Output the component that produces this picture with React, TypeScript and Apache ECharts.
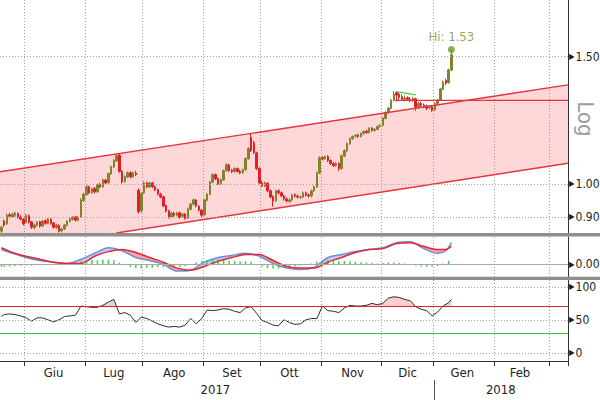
import React, { useEffect, useRef } from 'react';
import * as echarts from 'echarts';

const FONT = "'Liberation Sans Narrow', 'DejaVu Sans Condensed', 'Liberation Sans', sans-serif";

// trading-day categories (index based)
const DAY_COUNT = 207;
const monthStarts = [9, 31, 52, 74, 95, 117, 139, 158, 180, 200];
const monthLabelIdx = [19, 41, 63, 84, 105, 128, 148, 168, 189];
const monthLabels = ['Giu', 'Lug', 'Ago', 'Set', 'Ott', 'Nov', 'Dic', 'Gen', 'Feb'];
const yearLabelIdx = [78, 182];
const yearLabels = ['2017', '2018'];
const yearBoundaryIdx = 158;

// [open, close, low, high]
const candles = [
  [0.860, 0.871, 0.855, 0.875], [0.888, 0.877, 0.872, 0.892], [0.880, 0.905, 0.878, 0.910], [0.906, 0.902, 0.896, 0.912],
  [0.900, 0.908, 0.897, 0.913], [0.905, 0.911, 0.900, 0.915], [0.910, 0.899, 0.895, 0.913], [0.900, 0.894, 0.890, 0.905],
  [0.894, 0.880, 0.876, 0.897], [0.884, 0.905, 0.882, 0.909], [0.903, 0.885, 0.881, 0.907], [0.886, 0.871, 0.866, 0.889],
  [0.870, 0.877, 0.865, 0.881], [0.876, 0.885, 0.873, 0.889], [0.886, 0.874, 0.870, 0.889], [0.874, 0.888, 0.872, 0.891],
  [0.889, 0.882, 0.878, 0.893], [0.881, 0.894, 0.879, 0.897], [0.893, 0.882, 0.878, 0.896], [0.883, 0.871, 0.867, 0.886],
  [0.870, 0.877, 0.866, 0.881], [0.876, 0.860, 0.856, 0.879], [0.861, 0.866, 0.857, 0.870], [0.866, 0.877, 0.863, 0.880],
  [0.876, 0.888, 0.874, 0.891], [0.887, 0.894, 0.884, 0.898], [0.893, 0.899, 0.889, 0.903], [0.900, 0.891, 0.887, 0.903],
  [0.890, 0.899, 0.887, 0.903], [0.900, 0.950, 0.898, 0.955], [0.948, 0.968, 0.944, 0.972], [0.966, 0.991, 0.963, 0.996],
  [0.990, 0.972, 0.968, 0.994], [0.972, 0.984, 0.969, 0.988], [0.985, 0.975, 0.970, 0.990], [0.975, 0.997, 0.972, 1.001],
  [0.998, 0.991, 0.986, 1.003], [0.990, 1.013, 0.988, 1.017], [1.012, 1.003, 0.998, 1.016], [1.004, 1.033, 1.000, 1.037],
  [1.032, 1.056, 1.029, 1.060], [1.055, 1.077, 1.052, 1.082], [1.076, 1.094, 1.072, 1.099], [1.096, 1.040, 1.036, 1.101],
  [1.040, 1.006, 1.001, 1.045], [1.007, 1.023, 1.003, 1.027], [1.022, 1.036, 1.019, 1.040], [1.036, 1.023, 1.018, 1.040],
  [1.022, 1.036, 1.019, 1.040], [1.035, 1.030, 1.025, 1.042], [0.980, 0.915, 0.910, 0.985], [0.918, 0.970, 0.912, 0.975],
  [0.972, 1.003, 0.968, 1.008], [1.003, 0.991, 0.986, 1.007], [0.990, 1.003, 0.987, 1.007], [1.003, 0.991, 0.987, 1.006],
  [0.991, 0.981, 0.977, 0.995], [0.982, 0.968, 0.964, 0.985], [0.968, 0.959, 0.955, 0.972], [0.960, 0.932, 0.928, 0.963],
  [0.933, 0.917, 0.913, 0.936], [0.918, 0.899, 0.895, 0.921], [0.900, 0.911, 0.896, 0.915], [0.911, 0.905, 0.900, 0.915],
  [0.905, 0.911, 0.901, 0.915], [0.912, 0.899, 0.895, 0.915], [0.902, 0.908, 0.898, 0.912], [0.908, 0.896, 0.892, 0.911],
  [0.897, 0.923, 0.894, 0.927], [0.922, 0.938, 0.919, 0.942], [0.937, 0.950, 0.934, 0.955], [0.950, 0.932, 0.928, 0.953],
  [0.931, 0.920, 0.916, 0.934], [0.920, 0.905, 0.900, 0.923], [0.906, 0.950, 0.903, 0.954], [0.949, 0.968, 0.945, 0.972],
  [0.967, 1.006, 0.964, 1.010], [1.005, 1.030, 1.002, 1.034], [1.030, 1.016, 1.012, 1.034], [1.017, 1.000, 0.996, 1.020],
  [1.000, 1.013, 0.997, 1.017], [1.012, 1.043, 1.010, 1.047], [1.043, 1.063, 1.040, 1.068], [1.062, 1.043, 1.039, 1.066],
  [1.044, 1.040, 1.035, 1.049], [1.040, 1.050, 1.036, 1.054], [1.050, 1.040, 1.036, 1.054], [1.041, 1.036, 1.031, 1.046],
  [1.036, 1.046, 1.032, 1.050], [1.046, 1.084, 1.043, 1.088], [1.083, 1.119, 1.080, 1.124], [1.160, 1.112, 1.107, 1.174],
  [1.140, 1.105, 1.100, 1.148], [1.104, 1.050, 1.045, 1.108], [1.050, 1.003, 0.998, 1.055], [1.003, 0.994, 0.989, 1.010],
  [0.994, 1.003, 0.990, 1.008], [1.002, 0.978, 0.974, 1.006], [0.978, 0.959, 0.955, 0.982], [0.960, 0.947, 0.930, 0.964],
  [0.948, 0.978, 0.944, 0.982], [0.978, 0.972, 0.967, 0.983], [0.972, 0.962, 0.958, 0.976], [0.962, 0.953, 0.948, 0.966],
  [0.953, 0.947, 0.942, 0.958], [0.946, 0.950, 0.941, 0.955], [0.950, 0.965, 0.946, 0.969], [0.965, 0.962, 0.957, 0.970],
  [0.962, 0.959, 0.954, 0.967], [0.958, 0.959, 0.953, 0.964], [0.959, 0.972, 0.955, 0.976], [0.972, 0.965, 0.960, 0.976],
  [0.965, 0.962, 0.957, 0.969], [0.962, 0.978, 0.958, 0.982], [0.978, 0.991, 0.974, 0.995], [0.990, 1.036, 0.987, 1.040],
  [1.035, 1.087, 1.032, 1.092], [1.087, 1.084, 1.078, 1.092], [1.083, 1.091, 1.079, 1.095], [1.091, 1.077, 1.072, 1.096],
  [1.077, 1.067, 1.062, 1.081], [1.067, 1.060, 1.055, 1.072], [1.060, 1.067, 1.056, 1.071], [1.067, 1.050, 1.042, 1.071],
  [1.050, 1.094, 1.046, 1.098], [1.093, 1.112, 1.089, 1.116], [1.111, 1.137, 1.108, 1.141], [1.136, 1.155, 1.132, 1.159],
  [1.155, 1.163, 1.150, 1.167], [1.164, 1.167, 1.159, 1.172], [1.168, 1.163, 1.158, 1.173], [1.163, 1.174, 1.159, 1.178],
  [1.174, 1.182, 1.170, 1.186], [1.183, 1.178, 1.173, 1.188], [1.178, 1.194, 1.174, 1.198], [1.194, 1.186, 1.181, 1.199],
  [1.186, 1.190, 1.181, 1.195], [1.190, 1.201, 1.186, 1.205], [1.201, 1.205, 1.196, 1.210], [1.205, 1.233, 1.201, 1.237],
  [1.232, 1.256, 1.228, 1.260], [1.255, 1.273, 1.251, 1.278], [1.272, 1.306, 1.268, 1.311], [1.305, 1.331, 1.300, 1.345],
  [1.338, 1.327, 1.300, 1.342], [1.330, 1.318, 1.305, 1.336], [1.320, 1.310, 1.302, 1.330], [1.308, 1.314, 1.300, 1.326],
  [1.316, 1.310, 1.302, 1.322], [1.310, 1.306, 1.298, 1.318], [1.305, 1.314, 1.298, 1.320], [1.312, 1.277, 1.262, 1.316],
  [1.280, 1.293, 1.270, 1.298], [1.292, 1.285, 1.275, 1.300], [1.286, 1.281, 1.272, 1.292], [1.282, 1.273, 1.265, 1.288],
  [1.274, 1.277, 1.268, 1.286], [1.278, 1.264, 1.258, 1.284], [1.266, 1.293, 1.262, 1.297], [1.292, 1.306, 1.288, 1.311],
  [1.306, 1.353, 1.302, 1.358], [1.352, 1.384, 1.348, 1.390], [1.390, 1.379, 1.370, 1.398], [1.380, 1.438, 1.376, 1.444],
  [1.437, 1.509, 1.433, 1.534],
];

// price grid lines (log axis)
const priceTicks = [0.9, 1.0, 1.5];
const priceTickLabels = ['0.90', '1.00', '1.50'];
const priceMin = 0.855;
const priceMax = 1.797;

// regression channel: values at first and last category
const channelIdx = [0, 206];
const channelUpper = [1.040, 1.370];
const channelLower = [0.808, 1.067];
// resistance line and pennant top
const resistanceIdx = 144;
const resistanceLevel = 1.305;
const pennantIdx = [144, 151];
const pennantValues = [1.342, 1.328];

const hiIdx = 164;
const hiValue = 1.534;
const hiLabel = 'Hi: 1.53';

// MACD panel
const macdIdx = [0, 4, 9, 14, 19, 24, 29, 34, 39, 44, 49, 54, 59, 64, 69, 74, 79, 84, 89, 94, 99, 104, 109, 114, 119, 124, 129, 134, 139, 144, 149, 154, 159, 162, 164];
const macdLine = [0.035, 0.026, 0.016, 0.009, 0.005, 0.002, 0.012, 0.026, 0.039, 0.032, 0.016, 0.009, 0.000, -0.016, -0.014, 0.005, 0.016, 0.021, 0.026, 0.019, 0.002, -0.009, -0.012, -0.007, 0.016, 0.023, 0.030, 0.035, 0.039, 0.051, 0.053, 0.037, 0.026, 0.032, 0.051];
const signalLine = [0.039, 0.028, 0.019, 0.012, 0.005, 0.002, 0.002, 0.019, 0.030, 0.035, 0.028, 0.016, 0.005, -0.009, -0.014, -0.005, 0.007, 0.016, 0.023, 0.023, 0.009, -0.005, -0.009, -0.009, 0.005, 0.016, 0.028, 0.035, 0.037, 0.049, 0.051, 0.042, 0.035, 0.035, 0.042];
const macdHist = [
  [0, -0.006], [1, -0.006], [3, -0.005], [5, -0.004], [7, -0.004], [9, -0.003], [11, -0.003], [13, -0.002], [15, -0.002], [17, 0.001],
  [19, 0.001], [21, 0.002], [23, 0.002], [25, 0.003], [27, 0.005], [29, 0.008], [31, 0.009], [33, 0.010], [35, 0.010], [37, 0.011],
  [39, 0.011], [41, 0.010], [43, 0.004], [45, -0.002], [47, -0.006], [49, -0.009], [51, -0.010], [53, -0.009], [55, -0.008], [57, -0.007],
  [59, -0.007], [61, -0.008], [63, -0.008], [65, -0.007], [67, -0.004], [69, -0.001], [71, 0.004], [73, 0.008], [75, 0.010], [77, 0.012],
  [79, 0.012], [81, 0.011], [83, 0.009], [85, 0.008], [87, 0.007], [89, 0.007], [91, 0.006], [93, -0.001], [95, -0.006], [97, -0.009],
  [99, -0.010], [101, -0.010], [103, -0.009], [105, -0.007], [107, -0.005], [109, -0.003], [111, -0.001], [113, 0.002], [115, 0.006], [117, 0.009],
  [119, 0.010], [121, 0.009], [123, 0.008], [125, 0.008], [127, 0.007], [129, 0.006], [131, 0.005], [133, 0.004], [135, 0.003], [137, 0.002],
  [139, 0.003], [141, 0.004], [143, 0.004], [145, 0.003], [147, 0.002], [149, 0.000], [151, -0.003], [153, -0.005], [155, -0.006], [157, -0.005],
  [159, -0.004], [161, 0.002], [163, 0.008],
];
const macdZeroLabel = '0.00';

// RSI panel
const rsi = [
  [0, 55], [1, 58], [3, 59], [5, 58], [7, 56], [9, 53], [11, 48], [13, 53], [15, 53], [17, 50], [19, 47], [21, 50], [23, 55], [25, 56],
  [27, 57], [29, 71], [31, 70], [33, 69], [35, 69], [37, 72], [39, 77], [41, 81], [43, 59], [45, 61], [47, 57], [49, 46], [51, 54],
  [53, 52], [55, 48], [57, 44], [59, 41], [61, 39], [63, 40], [65, 39], [67, 42], [69, 52], [71, 44], [73, 52], [75, 65], [77, 64],
  [79, 65], [81, 67], [83, 66], [85, 63], [87, 61], [89, 68], [91, 70], [93, 60], [95, 49], [97, 46], [99, 42], [101, 41], [103, 50],
  [105, 46], [107, 43], [109, 44], [111, 50], [113, 52], [115, 52], [117, 71], [119, 64], [121, 63], [123, 61], [125, 68], [127, 72],
  [129, 71], [131, 71], [133, 72], [135, 75], [137, 73], [139, 75], [141, 83], [143, 85], [145, 84], [147, 81], [149, 79], [151, 70],
  [153, 66], [155, 64], [157, 56], [159, 62], [161, 71], [163, 76], [164, 81],
];
const rsiTicks = [0, 50, 100];
const rsiOverbought = 70;
const rsiOversold = 30;

// ---------- helpers ----------
type Pt = number[];
type Rect = { x: number; y: number; width: number; height: number };

function clipEdge(pts: Pt[], inside: (p: Pt) => boolean, cut: (a: Pt, b: Pt) => Pt): Pt[] {
  const out: Pt[] = [];
  for (let i = 0; i < pts.length; i++) {
    const cur = pts[i];
    const prev = pts[(i + pts.length - 1) % pts.length];
    const ci = inside(cur);
    const pi = inside(prev);
    if (ci) {
      if (!pi) out.push(cut(prev, cur));
      out.push(cur);
    } else if (pi) {
      out.push(cut(prev, cur));
    }
  }
  return out;
}
const atX = (a: Pt, b: Pt, x: number): Pt => [x, a[1] + ((b[1] - a[1]) * (x - a[0])) / (b[0] - a[0])];
const atY = (a: Pt, b: Pt, y: number): Pt => [a[0] + ((b[0] - a[0]) * (y - a[1])) / (b[1] - a[1]), y];

function clipPolygon(pts: Pt[], r: Rect): Pt[] {
  const x0 = r.x, x1 = r.x + r.width, y0 = r.y, y1 = r.y + r.height;
  let p = pts;
  p = clipEdge(p, (q) => q[0] >= x0, (a, b) => atX(a, b, x0));
  p = clipEdge(p, (q) => q[0] <= x1, (a, b) => atX(a, b, x1));
  p = clipEdge(p, (q) => q[1] >= y0, (a, b) => atY(a, b, y0));
  p = clipEdge(p, (q) => q[1] <= y1, (a, b) => atY(a, b, y1));
  return p;
}

function clipSeg(a: Pt, b: Pt, r: Rect): Pt[] | null {
  let t0 = 0, t1 = 1;
  const dx = b[0] - a[0], dy = b[1] - a[1];
  const p = [-dx, dx, -dy, dy];
  const q = [a[0] - r.x, r.x + r.width - a[0], a[1] - r.y, r.y + r.height - a[1]];
  for (let i = 0; i < 4; i++) {
    if (p[i] === 0) {
      if (q[i] < 0) return null;
    } else {
      const t = q[i] / p[i];
      if (p[i] < 0) {
        if (t > t1) return null;
        if (t > t0) t0 = t;
      } else {
        if (t < t0) return null;
        if (t < t1) t1 = t;
      }
    }
  }
  return [[a[0] + t0 * dx, a[1] + t0 * dy], [a[0] + t1 * dx, a[1] + t1 * dy]];
}

function bandRenderer(colorPos: string | null, colorNeg: string | null) {
  return (params: any, api: any) => {
    const A0 = api.coord([api.value(0), api.value(1)]);
    const B0 = api.coord([api.value(0), api.value(2)]);
    const A1 = api.coord([api.value(3), api.value(4)]);
    const B1 = api.coord([api.value(3), api.value(5)]);
    const d0 = api.value(1) - api.value(2);
    const d1 = api.value(4) - api.value(5);
    const children: any[] = [];
    const poly = (pts: Pt[], color: string | null) => {
      if (!color) return;
      children.push({ type: 'polygon', shape: { points: pts }, style: { fill: color } });
    };
    if (d0 * d1 >= 0) {
      poly([A0, A1, B1, B0], d0 + d1 >= 0 ? colorPos : colorNeg);
    } else {
      const t = d0 / (d0 - d1);
      const C = [A0[0] + (A1[0] - A0[0]) * t, A0[1] + (A1[1] - A0[1]) * t];
      poly([A0, C, B0], d0 > 0 ? colorPos : colorNeg);
      poly([C, A1, B1], d1 > 0 ? colorPos : colorNeg);
    }
    return { type: 'group', children };
  };
}

const RIGHT_LABEL = {
  show: true, position: 'end', distance: 1, color: '#1e1e1e', fontFamily: FONT,
  rich: {
    t: { fontSize: 8, color: '#1e1e1e', fontFamily: FONT, padding: [0, 1, 0, 0] },
    v: { fontSize: 12, color: '#1e1e1e', fontFamily: FONT },
  },
};
const rightText = (s: string) => '{t|\u25B6}{v|' + s + '}';

function buildOption(): any {
  const cats = Array.from({ length: DAY_COUNT }, (_, i) => String(i));
  const isMonthStart = (i: number) => monthStarts.indexOf(i) >= 0;
  const gridLine = { color: '#a3a3a3', width: 1, type: [1, 2] };
  const axisDark = { color: '#333', width: 1 };
  const labelStyle = { color: '#1e1e1e', fontSize: 13, fontFamily: FONT };

  const hiddenX = (gridIndex: number) => ({
    type: 'category', gridIndex, data: cats, boundaryGap: true,
    axisLine: { show: false, onZero: false }, axisTick: { show: false }, axisLabel: { show: false },
    splitLine: { show: true, interval: (i: number) => isMonthStart(i), lineStyle: gridLine },
  });

  const macdBand = macdIdx.slice(0, -1).map((x, i) => [x, macdLine[i], signalLine[i], macdIdx[i + 1], macdLine[i + 1], signalLine[i + 1]]);
  const rsiBand = rsi.slice(0, -1).map((p, i) => [p[0], p[1], rsiOverbought, rsi[i + 1][0], rsi[i + 1][1], rsiOverbought]);

  return {
    animation: false,
    backgroundColor: '#ffffff',
    textStyle: { fontFamily: FONT },
    grid: [
      { left: 0, top: 0, width: 568, height: 233 },
      { left: 0, top: 237, width: 568, height: 40 },
      { left: 0, top: 280, width: 568, height: 81 },
    ],
    xAxis: [
      hiddenX(0),
      hiddenX(1),
      {
        type: 'category', gridIndex: 2, data: cats, boundaryGap: true,
        axisLine: { show: true, onZero: false, lineStyle: axisDark },
        axisTick: { show: true, interval: (i: number) => isMonthStart(i), length: 5, lineStyle: axisDark },
        axisLabel: {
          ...labelStyle, margin: 5,
          interval: (i: number) => monthLabelIdx.indexOf(i) >= 0,
          formatter: (v: string) => { const k = monthLabelIdx.indexOf(Number(v)); return k >= 0 ? monthLabels[k] : ''; },
        },
        splitLine: { show: true, interval: (i: number) => isMonthStart(i), lineStyle: gridLine },
      },
      {
        type: 'category', gridIndex: 2, data: cats, boundaryGap: true, position: 'bottom', offset: 18,
        axisLine: { show: false, onZero: false }, axisTick: { show: false },
        axisLabel: {
          ...labelStyle, margin: 4,
          interval: (i: number) => yearLabelIdx.indexOf(i) >= 0,
          formatter: (v: string) => { const k = yearLabelIdx.indexOf(Number(v)); return k >= 0 ? yearLabels[k] : ''; },
        },
        splitLine: { show: false },
      },
    ],
    yAxis: [
      {
        type: 'log', gridIndex: 0, position: 'right', min: priceMin, max: priceMax,
        axisLine: { show: true, lineStyle: axisDark }, axisTick: { show: false }, axisLabel: { show: false }, splitLine: { show: false },
      },
      {
        type: 'value', gridIndex: 1, position: 'right', min: -0.03, max: 0.0645,
        axisLine: { show: true, lineStyle: axisDark }, axisTick: { show: false }, axisLabel: { show: false }, splitLine: { show: false },
      },
      {
        type: 'value', gridIndex: 2, position: 'right', min: -12.5, max: 110.5,
        axisLine: { show: true, lineStyle: axisDark }, axisTick: { show: false }, axisLabel: { show: false }, splitLine: { show: false },
      },
    ],
    graphic: [
      { type: 'rect', id: 'sep1', left: 0, top: 233, shape: { x: 0, y: 0, width: 600, height: 3.5 }, style: { fill: '#8e8e8e' }, z: 50 },
      { type: 'rect', id: 'sep2', left: 0, top: 276.8, shape: { x: 0, y: 0, width: 600, height: 3.3 }, style: { fill: '#8e8e8e' }, z: 50 },
      {
        type: 'text', id: 'logTxt', x: 585, y: 119, rotation: -Math.PI / 2, z: 50,
        style: { text: 'Log', fontSize: 22, fontFamily: FONT, fill: '#9d9d9d', align: 'center', verticalAlign: 'middle' },
      },
    ],
    series: [
      // regression channel fill
      {
        type: 'custom', xAxisIndex: 0, yAxisIndex: 0, z: 1, silent: true,
        data: [[channelIdx[0], channelUpper[0]]],
        renderItem: (params: any, api: any) => {
          const cs = params.coordSys;
          const r: Rect = { x: cs.x, y: cs.y, width: cs.width, height: cs.height };
          const u0 = api.coord([channelIdx[0], channelUpper[0]]);
          const u1 = api.coord([channelIdx[1], channelUpper[1]]);
          const l0 = api.coord([channelIdx[0], channelLower[0]]);
          const l1 = api.coord([channelIdx[1], channelLower[1]]);
          const xL = r.x, xR = r.x + r.width;
          const pts = clipPolygon([atX(u0, u1, xL), atX(u0, u1, xR), atX(l0, l1, xR), atX(l0, l1, xL)], r);
          return { type: 'polygon', shape: { points: pts }, style: { fill: 'rgba(250, 70, 70, 0.21)' } };
        },
      },
      // candles
      {
        type: 'candlestick', xAxisIndex: 0, yAxisIndex: 0, z: 2,
        data: candles, barWidth: 2,
        itemStyle: { color: '#80842a', color0: '#e41e28', borderColor: '#80842a', borderColor0: '#e41e28', borderWidth: 1 },
        markLine: {
          silent: true, symbol: 'none', animation: false,
          lineStyle: gridLine,
          label: RIGHT_LABEL,
          data: priceTicks.map((v, i) => ({ yAxis: v, label: { formatter: rightText(priceTickLabels[i]) } })),
        },
      },
      // channel lines + resistance + pennant
      {
        type: 'custom', xAxisIndex: 0, yAxisIndex: 0, z: 3, silent: true,
        data: [[channelIdx[0], channelUpper[0]]],
        renderItem: (params: any, api: any) => {
          const cs = params.coordSys;
          const r: Rect = { x: cs.x, y: cs.y, width: cs.width, height: cs.height };
          const xL = r.x, xR = r.x + r.width;
          const children: any[] = [];
          const seg = (a: Pt, b: Pt, color: string, w: number) => {
            const s = clipSeg(a, b, r);
            if (s) children.push({ type: 'line', shape: { x1: s[0][0], y1: s[0][1], x2: s[1][0], y2: s[1][1] }, style: { stroke: color, lineWidth: w } });
          };
          const u0 = api.coord([channelIdx[0], channelUpper[0]]);
          const u1 = api.coord([channelIdx[1], channelUpper[1]]);
          const l0 = api.coord([channelIdx[0], channelLower[0]]);
          const l1 = api.coord([channelIdx[1], channelLower[1]]);
          seg(atX(u0, u1, xL), atX(u0, u1, xR), '#e8323c', 1.4);
          seg(atX(l0, l1, xL), atX(l0, l1, xR), '#e8323c', 1.4);
          const h = api.coord([resistanceIdx, resistanceLevel]);
          seg([h[0] - api.size([1, 0])[0] / 2, h[1]], [xR, h[1]], '#e8323c', 1.2);
          const g0 = api.coord([pennantIdx[0], pennantValues[0]]);
          const g1 = api.coord([pennantIdx[1], pennantValues[1]]);
          seg(g0, g1, '#3ccf3c', 1.2);
          return { type: 'group', children };
        },
      },
      // Hi marker
      {
        type: 'scatter', xAxisIndex: 0, yAxisIndex: 0, z: 4, silent: true,
        data: [[hiIdx, hiValue]], symbolSize: 7,
        itemStyle: { color: '#6f9a2c' },
        label: { show: true, position: 'top', distance: 3, formatter: hiLabel, color: '#76952a', fontSize: 13, fontFamily: FONT },
      },
      // MACD fill
      {
        type: 'custom', xAxisIndex: 1, yAxisIndex: 1, z: 1, silent: true,
        data: macdBand, encode: { x: [0, 3], y: [1, 2, 4, 5] },
        renderItem: bandRenderer('rgba(110, 140, 215, 0.45)', 'rgba(238, 70, 70, 0.5)'),
      },
      // MACD histogram
      {
        type: 'bar', xAxisIndex: 1, yAxisIndex: 1, z: 2, silent: true,
        data: macdHist, barWidth: 1.5, itemStyle: { color: '#44d444' },
        markLine: {
          silent: true, symbol: 'none', animation: false,
          lineStyle: { color: '#a8a8a8', width: 1, type: 'solid' },
          label: RIGHT_LABEL,
          data: [{ yAxis: 0, label: { formatter: rightText(macdZeroLabel) } }],
        },
      },
      {
        type: 'line', xAxisIndex: 1, yAxisIndex: 1, z: 3, silent: true, smooth: 0.3,
        data: macdIdx.map((x, i) => [x, macdLine[i]]), showSymbol: false,
        lineStyle: { color: '#6a8fd6', width: 1.5 },
      },
      {
        type: 'line', xAxisIndex: 1, yAxisIndex: 1, z: 3, silent: true, smooth: 0.3,
        data: macdIdx.map((x, i) => [x, signalLine[i]]), showSymbol: false,
        lineStyle: { color: '#e6262e', width: 1.5 },
      },
      // RSI overbought fill
      {
        type: 'custom', xAxisIndex: 2, yAxisIndex: 2, z: 1, silent: true,
        data: rsiBand, encode: { x: [0, 3], y: [1, 2, 4, 5] },
        renderItem: bandRenderer('rgba(240, 90, 90, 0.3)', null),
      },
      // RSI line + levels
      {
        type: 'line', xAxisIndex: 2, yAxisIndex: 2, z: 3, silent: true,
        data: rsi, showSymbol: false,
        lineStyle: { color: '#2e2e2e', width: 1 },
        markLine: {
          silent: true, symbol: 'none', animation: false,
          label: RIGHT_LABEL,
          data: [
            ...rsiTicks.map((v) => ({ yAxis: v, lineStyle: gridLine, label: { formatter: rightText(String(v)) } })),
            { yAxis: rsiOverbought, lineStyle: { color: '#e5252d', width: 1, type: 'solid' }, label: { show: false } },
            { yAxis: rsiOversold, lineStyle: { color: '#3cc43c', width: 1, type: 'solid' }, label: { show: false } },
          ],
        },
      },
      // year separator (below the axis)
      {
        type: 'custom', xAxisIndex: 2, yAxisIndex: 2, z: 5, silent: true, clip: false,
        data: [[yearBoundaryIdx, 0]],
        renderItem: (params: any, api: any) => {
          const cs = params.coordSys;
          const c = api.coord([api.value(0), 0]);
          const x = Math.round(c[0] - api.size([1, 0])[0] / 2) + 0.5;
          const y0 = cs.y + cs.height + 19;
          return { type: 'line', shape: { x1: x, y1: y0, x2: x, y2: y0 + 21 }, style: { stroke: '#555', lineWidth: 1 } };
        },
      },
    ],
  };
}

export default function App() {
  const ref = useRef<HTMLDivElement>(null);
  useEffect(() => {
    if (!ref.current) return;
    const chart = echarts.init(ref.current, undefined, { renderer: 'svg' });
    chart.setOption(buildOption());
    return () => chart.dispose();
  }, []);
  return <div ref={ref} style={{ position: 'fixed', left: 0, top: 0, width: 600, height: 400, background: '#fff' }} />;
}
